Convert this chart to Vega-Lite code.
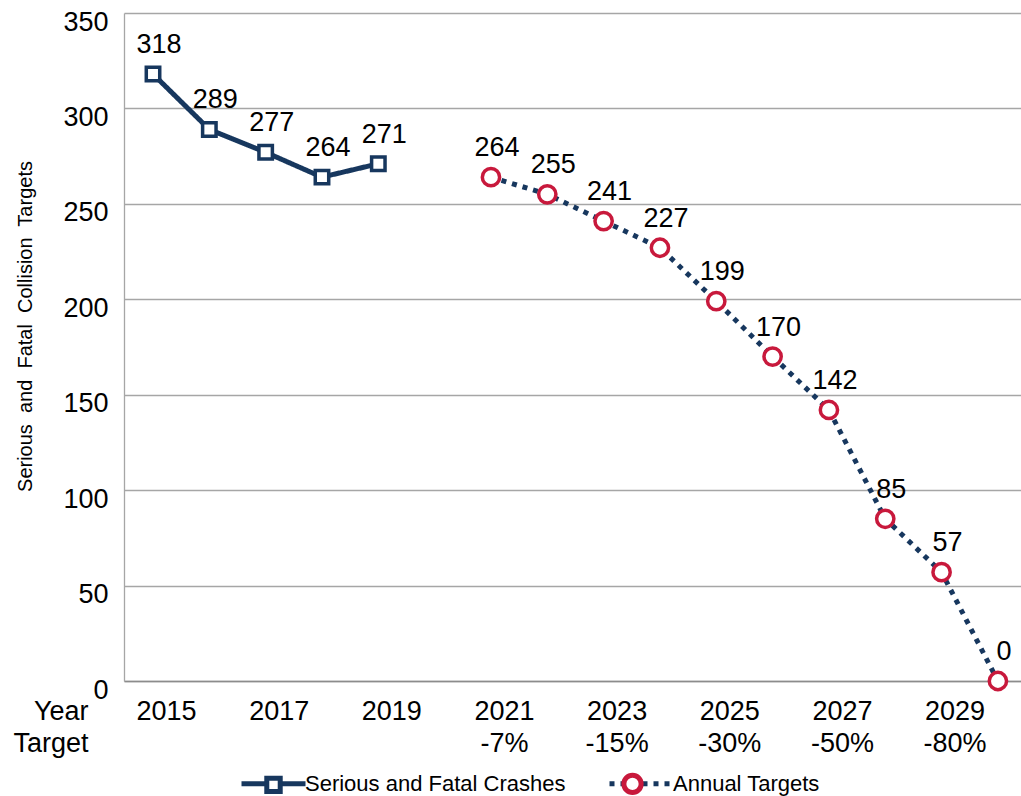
{
  "$schema": "https://vega.github.io/schema/vega-lite/v6.json",
  "autosize": "none",
  "width": 897,
  "height": 668,
  "padding": {"left": 124, "top": 13, "right": 0, "bottom": 115},
  "background": "white",
  "config": {
    "view": {"stroke": null},
    "font": "Liberation Sans",
    "legend": {"padding": 0}
  },
  "data": {
    "values": [
      {"year": 2015, "value": 318, "series": "Serious and Fatal Crashes"},
      {"year": 2016, "value": 289, "series": "Serious and Fatal Crashes"},
      {"year": 2017, "value": 277, "series": "Serious and Fatal Crashes"},
      {"year": 2018, "value": 264, "series": "Serious and Fatal Crashes"},
      {"year": 2019, "value": 271, "series": "Serious and Fatal Crashes"},
      {"year": 2021, "value": 264, "series": "Annual Targets"},
      {"year": 2022, "value": 255, "series": "Annual Targets"},
      {"year": 2023, "value": 241, "series": "Annual Targets"},
      {"year": 2024, "value": 227, "series": "Annual Targets"},
      {"year": 2025, "value": 199, "series": "Annual Targets"},
      {"year": 2026, "value": 170, "series": "Annual Targets"},
      {"year": 2027, "value": 142, "series": "Annual Targets"},
      {"year": 2028, "value": 85, "series": "Annual Targets"},
      {"year": 2029, "value": 57, "series": "Annual Targets"},
      {"year": 2030, "value": 0, "series": "Annual Targets"}
    ]
  },
  "encoding": {
    "x": {
      "field": "year",
      "type": "quantitative",
      "scale": {"domain": [2014.485, 2030.41], "nice": false, "zero": false},
      "axis": {
        "values": [2015, 2017, 2019, 2021, 2023, 2025, 2027, 2029],
        "format": "d",
        "labelExpr": "datum.value == 2021 ? ['2021','-7%'] : datum.value == 2023 ? ['2023','-15%'] : datum.value == 2025 ? ['2025','-30%'] : datum.value == 2027 ? ['2027','-50%'] : datum.value == 2029 ? ['2029','-80%'] : datum.label",
        "labelOffset": 13,
        "labelFontSize": 27,
        "labelFont": "Liberation Sans",
        "labelColor": "black",
        "labelLineHeight": 32,
        "labelPadding": 17,
        "labelFlush": false,
        "labelOverlap": false,
        "ticks": false,
        "grid": false,
        "domain": true,
        "domainColor": "#8C8C8C",
        "domainWidth": 1.5,
        "title": ["Year", "Target"],
        "titleFont": "Liberation Sans",
        "titleFontSize": 27,
        "titleFontWeight": "normal",
        "titleColor": "black",
        "titleLineHeight": 32,
        "titleAlign": "right",
        "titleBaseline": "top",
        "titleAnchor": null,
        "titleX": -36,
        "titleY": 17
      }
    },
    "y": {
      "field": "value",
      "type": "quantitative",
      "scale": {"domain": [0, 350], "nice": false},
      "axis": {
        "values": [0, 50, 100, 150, 200, 250, 300, 350],
        "labelFontSize": 27,
        "labelFont": "Liberation Sans",
        "labelColor": "black",
        "labelPadding": 16,
        "labelOffset": 9,
        "labelFlush": false,
        "ticks": false,
        "grid": true,
        "gridColor": "#A6A6A6",
        "gridWidth": 1.3,
        "domain": true,
        "domainColor": "#A6A6A6",
        "domainWidth": 1.3,
        "title": "Serious\u00a0 and\u00a0 Fatal\u00a0 Collision\u00a0 Targets",
        "titleFont": "Liberation Sans",
        "titleFontSize": 20,
        "titleFontWeight": "normal",
        "titleColor": "black",
        "titleAngle": -90,
        "titleAlign": "center",
        "titleBaseline": "middle",
        "titleAnchor": null,
        "titleX": -99,
        "titleY": 313
      }
    }
  },
  "layer": [
    {
      "mark": {"type": "line", "color": "#17375E", "strokeWidth": 5, "strokeCap": "butt"},
      "encoding": {
        "strokeDash": {
          "field": "series",
          "type": "nominal",
          "sort": "descending",
          "scale": {"range": [[1, 0], [5, 6]]},
          "legend": {
            "orient": "none",
            "legendX": 115,
            "legendY": 736,
            "direction": "horizontal",
            "title": null,
            "symbolType": "stroke",
            "symbolSize": 4096,
            "symbolStrokeWidth": 5,
            "symbolStrokeColor": "#17375E",
            "labelFontSize": 22,
            "labelFont": "Liberation Sans",
            "labelColor": "black",
            "labelOffset": -3,
            "labelLimit": 0,
            "columnPadding": 33,
            "zindex": 0
          }
        }
      }
    },
    {
      "mark": {"type": "point", "filled": true, "fill": "white", "strokeWidth": 3.5, "size": 4096, "opacity": 1},
      "encoding": {
        "shape": {
          "field": "series",
          "type": "nominal",
          "scale": {
            "domain": ["Serious and Fatal Crashes", "Annual Targets"],
            "range": [
              "M-0.21,-0.21 L0.21,-0.21 L0.21,0.21 L-0.21,0.21 Z",
              "M0.27,0 C0.27,0.149 0.149,0.27 0,0.27 C-0.149,0.27 -0.27,0.149 -0.27,0 C-0.27,-0.149 -0.149,-0.27 0,-0.27 C0.149,-0.27 0.27,-0.149 0.27,0 Z"
            ]
          },
          "legend": {
            "orient": "none",
            "legendX": 115,
            "legendY": 736,
            "direction": "horizontal",
            "title": null,
            "symbolSize": 4096,
            "symbolStrokeWidth": 5,
            "symbolFillColor": "white",
            "symbolOpacity": 1,
            "labelFontSize": 22,
            "labelFont": "Liberation Sans",
            "labelExpr": "''",
            "labelOffset": -3,
            "labelLimit": 0,
            "columnPadding": 293,
            "zindex": 1,
            "encode": {"symbols": {"update": {"strokeWidth": {"value": 3.5}}}}
          }
        },
        "stroke": {
          "field": "series",
          "type": "nominal",
          "scale": {
            "domain": ["Serious and Fatal Crashes", "Annual Targets"],
            "range": ["#17375E", "#C8193C"]
          },
          "legend": {
            "orient": "none",
            "legendX": 115,
            "legendY": 736,
            "direction": "horizontal",
            "title": null,
            "symbolSize": 4096,
            "symbolStrokeWidth": 5,
            "symbolFillColor": "white",
            "symbolOpacity": 1,
            "labelFontSize": 22,
            "labelFont": "Liberation Sans",
            "labelExpr": "''",
            "labelOffset": -3,
            "labelLimit": 0,
            "columnPadding": 293,
            "zindex": 1,
            "encode": {"symbols": {"update": {"strokeWidth": {"value": 3.5}}}}
          }
        }
      }
    },
    {
      "mark": {"type": "text", "fontSize": 27, "font": "Liberation Sans", "color": "black", "dx": 6, "dy": -29, "baseline": "middle", "align": "center"},
      "encoding": {
        "text": {"field": "value", "type": "quantitative", "format": "d"}
      }
    }
  ]
}
